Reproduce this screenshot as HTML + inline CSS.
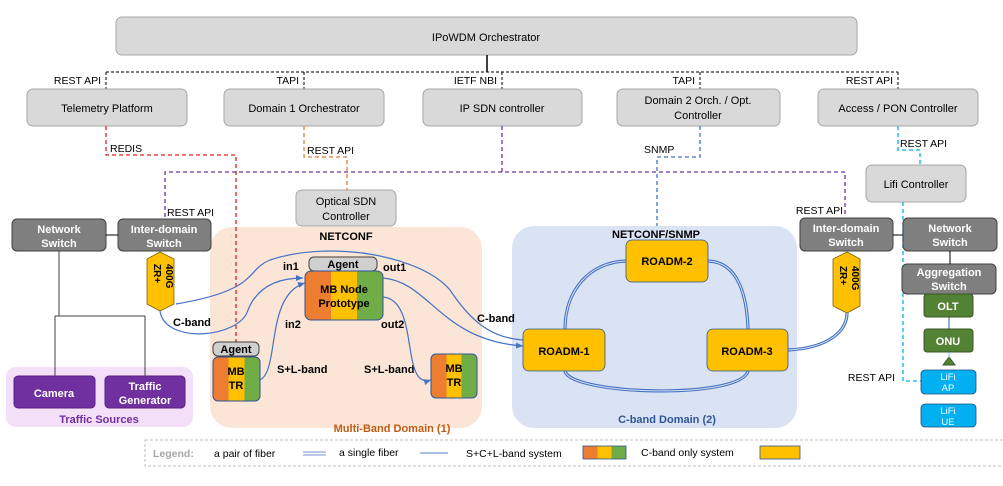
<!DOCTYPE html>
<html><head><meta charset="utf-8"><style>
html,body{margin:0;padding:0;background:#fff}
svg{display:block}
text{font-family:"Liberation Sans",sans-serif}
</style></head><body>
<svg width="1003" height="486" viewBox="0 0 1003 486" xmlns="http://www.w3.org/2000/svg">
<defs>
<marker id="ar" markerWidth="8" markerHeight="8" refX="7" refY="4" orient="auto" markerUnits="userSpaceOnUse"><path d="M0,1 L7,4 L0,7 z" fill="#4472c4"/></marker>
<linearGradient id="mb" x1="0" x2="1"><stop offset="0" stop-color="#ed7d31"/><stop offset=".333" stop-color="#ed7d31"/><stop offset=".333" stop-color="#ffc000"/><stop offset=".666" stop-color="#ffc000"/><stop offset=".666" stop-color="#70ad47"/><stop offset="1" stop-color="#70ad47"/></linearGradient>
</defs>
<rect x="6" y="367" width="187" height="60" rx="10" fill="#f3dff8"/>
<rect x="210" y="227" width="272" height="201" rx="22" fill="#fbe5d6"/>
<rect x="512" y="226" width="285" height="202" rx="22" fill="#dae3f3"/>
<rect x="116" y="17" width="741" height="38" rx="6" fill="#d9d9d9" stroke="#a6a6a6"/>
<text x="486" y="41" font-size="11" text-anchor="middle">IPoWDM  Orchestrator</text>
<line x1="487" y1="55" x2="487" y2="72" stroke="#000" stroke-width="1.5"/>
<g stroke="#000" stroke-dasharray="3,2" fill="none">
<path d="M106,72 H898 M106,72 V89 M304,72 V89 M502,72 V89 M700,72 V89 M898,72 V89"/>
</g>
<g font-size="10.5">
<text x="101" y="84" text-anchor="end">REST API</text>
<text x="299" y="84" text-anchor="end">TAPI</text>
<text x="497" y="84" text-anchor="end">IETF NBI</text>
<text x="695" y="84" text-anchor="end">TAPI</text>
<text x="893" y="84" text-anchor="end">REST API</text>
</g>
<g fill="#d9d9d9" stroke="#a6a6a6">
<rect x="27" y="89" width="160" height="37" rx="6"/>
<rect x="224" y="89" width="160" height="37" rx="6"/>
<rect x="423" y="89" width="159" height="37" rx="6"/>
<rect x="617" y="89" width="163" height="37" rx="6"/>
<rect x="818" y="89" width="160" height="37" rx="6"/>
<rect x="296" y="190" width="100" height="36" rx="6"/>
<rect x="866" y="165" width="100" height="37" rx="6"/>
</g>
<g font-size="11" text-anchor="middle">
<text x="107" y="112">Telemetry Platform</text>
<text x="304" y="112">Domain 1 Orchestrator</text>
<text x="502" y="112">IP SDN controller</text>
<text x="698" y="104">Domain 2 Orch. / Opt.</text>
<text x="698" y="119">Controller</text>
<text x="898" y="112">Access / PON Controller</text>
<text x="346" y="205">Optical SDN</text>
<text x="346" y="220">Controller</text>
<text x="916" y="188">Lifi Controller</text>
</g>
<g fill="none" stroke-dasharray="4,3" stroke-width="1.3">
<path d="M106,126 V155 H236 V342" stroke="#e02020"/>
<path d="M304,126 V157 H347 V190" stroke="#e07b39"/>
<path d="M502,126 V172 M165,217 V172 H845 V217" stroke="#7030a0"/>
<path d="M700,126 V157 H657 V226" stroke="#4472c4"/>
<path d="M898,126 V150 H920 V165 M903,202 V381 H921" stroke="#00b0f0"/>
</g>
<g font-size="10.5">
<text x="110" y="152">REDIS</text>
<text x="307" y="154">REST API</text>
<text x="644" y="153">SNMP</text>
<text x="900" y="147">REST API</text>
<text x="167" y="216">REST API</text>
<text x="843" y="214" text-anchor="end">REST API</text>
<text x="895" y="381" text-anchor="end">REST API</text>
</g>
<g fill="#7f7f7f" stroke="#404040">
<rect x="12" y="219" width="94" height="32" rx="5"/>
<rect x="118" y="219" width="93" height="32" rx="5"/>
<rect x="800" y="218" width="93" height="33" rx="5"/>
<rect x="903" y="218" width="94" height="33" rx="5"/>
<rect x="902" y="264" width="94" height="30" rx="5"/>
</g>
<g font-size="11" font-weight="bold" fill="#fff" text-anchor="middle">
<text x="59" y="233">Network</text><text x="59" y="247">Switch</text>
<text x="164" y="233">Inter-domain</text><text x="164" y="247">Switch</text>
<text x="846" y="232">Inter-domain</text><text x="846" y="246">Switch</text>
<text x="950" y="232">Network</text><text x="950" y="246">Switch</text>
<text x="949" y="276">Aggregation</text><text x="949" y="290">Switch</text>
</g>
<g stroke="#000" fill="none">
<path d="M106,235 H118 M893,235 H903 M950,251 V264"/>
<path d="M59,251 V316 M55,316 H145 M55,316 V376 M145,316 V376" stroke="#404040"/>
</g>
<g fill="#ffc000" stroke="#7f6000" stroke-width=".8">
<path d="M147,259 L160,252 L174,259 L174,304 L160,311 L147,304 z"/>
<path d="M833,259 L847,252 L860,259 L860,306 L847,313 L833,306 z"/>
</g>
<g font-size="10" font-weight="bold">
<text transform="translate(166,264) rotate(90)">400G</text>
<text transform="translate(154,264) rotate(90)">ZR+</text>
<text transform="translate(852,266) rotate(90)">400G</text>
<text transform="translate(840,266) rotate(90)">ZR+</text>
</g>
<g fill="#7030a0" stroke="#5a2080">
<rect x="14" y="376" width="81" height="32" rx="4"/>
<rect x="105" y="376" width="80" height="32" rx="4"/>
</g>
<g font-size="11" font-weight="bold" fill="#fff" text-anchor="middle">
<text x="54" y="397">Camera</text>
<text x="145" y="390">Traffic</text><text x="145" y="404">Generator</text>
</g>
<text x="99" y="423" font-size="11" font-weight="bold" fill="#7030a0" text-anchor="middle">Traffic Sources</text>
<text x="346" y="240" font-size="11" font-weight="bold" text-anchor="middle">NETCONF</text>
<rect x="309" y="257" width="68" height="14" rx="5" fill="#d0d0d0" stroke="#404040"/>
<text x="343" y="268" font-size="11" font-weight="bold" text-anchor="middle">Agent</text>
<rect x="305" y="271" width="78" height="49" rx="6" fill="url(#mb)" stroke="#2f5597"/>
<text x="344" y="293" font-size="11" font-weight="bold" text-anchor="middle">MB Node</text>
<text x="344" y="307" font-size="11" font-weight="bold" text-anchor="middle">Prototype</text>
<rect x="213" y="342" width="46" height="14" rx="5" fill="#d0d0d0" stroke="#404040"/>
<text x="236" y="353" font-size="11" font-weight="bold" text-anchor="middle">Agent</text>
<rect x="213" y="357" width="47" height="44" rx="5" fill="url(#mb)" stroke="#2f5597"/>
<text x="236" y="375" font-size="11" font-weight="bold" text-anchor="middle">MB</text>
<text x="236" y="389" font-size="11" font-weight="bold" text-anchor="middle">TR</text>
<rect x="431" y="354" width="46" height="44" rx="5" fill="url(#mb)" stroke="#2f5597"/>
<text x="454" y="372" font-size="11" font-weight="bold" text-anchor="middle">MB</text>
<text x="454" y="386" font-size="11" font-weight="bold" text-anchor="middle">TR</text>
<text x="392" y="432" font-size="11" font-weight="bold" fill="#c55a11" text-anchor="middle">Multi-Band Domain (1)</text>
<g font-size="11" font-weight="bold">
<text x="283" y="270">in1</text><text x="383" y="271">out1</text>
<text x="285" y="328">in2</text><text x="381" y="328">out2</text>
<text x="173" y="326">C-band</text>
<text x="277" y="373">S+L-band</text>
<text x="364" y="373">S+L-band</text>
<text x="477" y="322">C-band</text>
</g>
<g fill="none" stroke="#4472c4" stroke-width="1.2">
<path d="M260,380 C280,370 265,295 305,283" marker-end="url(#ar)"/>
<path d="M160,311 C165,345 240,338 248,310 C258,285 280,278 303,278" marker-end="url(#ar)"/>
<path d="M383,297 C420,300 400,390 431,380" marker-end="url(#ar)"/>
<path d="M383,278 C430,282 440,340 523,346" marker-end="url(#ar)"/>
<path d="M176,304 C260,290 245,270 270,260 C330,240 420,255 450,290 C470,320 490,338 523,340"/>
</g>
<text x="656" y="238" font-size="11" font-weight="bold" text-anchor="middle">NETCONF/SNMP</text>
<g fill="none" stroke="#4472c4" stroke-width="3.2"><path d="M565,329 C565,290 590,262 626,261 M708,261 C740,262 747,300 748,329 M565,371 C570,395 740,400 748,371 M788,350 C830,348 847,330 847,313"/></g>
<g fill="none" stroke="#dae3f3" stroke-width="1"><path d="M565,329 C565,290 590,262 626,261 M708,261 C740,262 747,300 748,329 M565,371 C570,395 740,400 748,371 M788,350 C830,348 847,330 847,313"/></g>
<g fill="#ffc000" stroke="#2f5597" stroke-width=".8">
<rect x="626" y="240" width="82" height="42" rx="6"/>
<rect x="523" y="329" width="82" height="42" rx="6"/>
<rect x="707" y="329" width="81" height="42" rx="6"/>
</g>
<g font-size="11" font-weight="bold" text-anchor="middle">
<text x="667" y="265">ROADM-2</text>
<text x="564" y="355">ROADM-1</text>
<text x="747" y="355">ROADM-3</text>
</g>
<text x="667" y="423" font-size="11" font-weight="bold" fill="#2f5597" text-anchor="middle">C-band Domain (2)</text>
<line x1="949" y1="317" x2="949" y2="329" stroke="#8faadc" stroke-width="2"/>
<g fill="#548235" stroke="#385723">
<rect x="924" y="294" width="49" height="23" rx="3"/>
<rect x="924" y="329" width="49" height="23" rx="3"/>
<path d="M943,365 L949,357 L955,365 z"/>
</g>
<line x1="949" y1="352" x2="949" y2="358" stroke="#8faadc"/>
<g font-size="11" font-weight="bold" fill="#fff" text-anchor="middle">
<text x="948" y="310">OLT</text><text x="948" y="345">ONU</text>
</g>
<g fill="#00b0f0" stroke="#1f4e79" stroke-width=".8">
<rect x="921" y="370" width="55" height="24" rx="4"/>
<rect x="921" y="404" width="55" height="23" rx="4"/>
</g>
<g font-size="9.5" fill="#fff" text-anchor="middle">
<text x="948" y="380">LiFi</text><text x="948" y="391">AP</text>
<text x="948" y="414">LiFi</text><text x="948" y="425">UE</text>
</g>
<rect x="145" y="440" width="860" height="26" fill="none" stroke="#bfbfbf" stroke-dasharray="3,2"/>
<g font-size="10.5">
<text x="153" y="457" fill="#a6a6a6" font-weight="bold">Legend:</text>
<text x="214" y="457">a pair of fiber</text>
<text x="339" y="456">a single fiber</text>
<text x="466" y="457">S+C+L-band system</text>
<text x="641" y="456">C-band only system</text>
</g>
<path d="M303,452 H326 M303,455 H326" stroke="#8faadc" stroke-width="1.2"/>
<path d="M420,453 H448" stroke="#8faadc" stroke-width="1.5"/>
<rect x="583" y="446" width="43" height="13" fill="url(#mb)" stroke="#2f5597" stroke-width=".8"/>
<rect x="760" y="446" width="40" height="13" fill="#ffc000" stroke="#2f5597" stroke-width=".8"/>
</svg>
</body></html>
